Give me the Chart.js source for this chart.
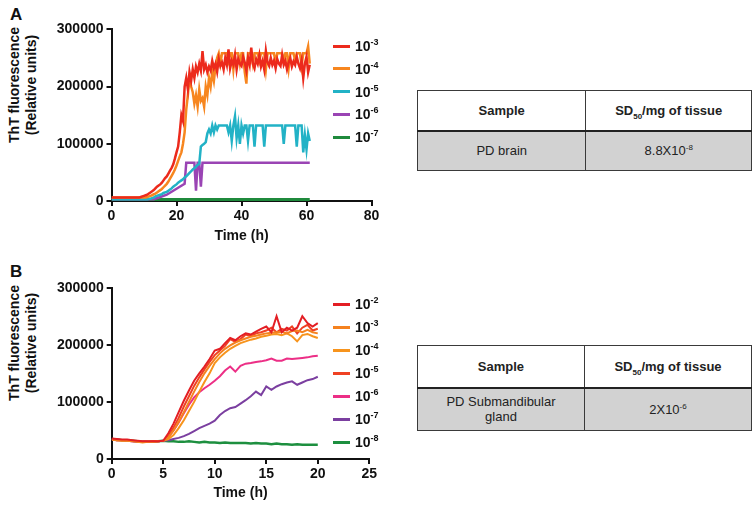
<!DOCTYPE html>
<html>
<head>
<meta charset="utf-8">
<script src="https://cdn.jsdelivr.net/npm/chart.js@4.4.0/dist/chart.umd.min.js"></script>
<style>
  html, body { margin: 0; padding: 0; background: #fff; }
  body { width: 752px; height: 505px; position: relative; overflow: hidden;
         font-family: 'Liberation Sans', Arial, sans-serif; color: #111; }
  .wrap { position: absolute; left: 0; width: 400px; height: 250px; }
  .panel { position: absolute; left: 10px; font-weight: bold; font-size: 17px; line-height: 17px; }
  .ytitle { position: absolute; width: 160px; height: 34px; font-weight: bold; font-size: 14px;
            line-height: 17px; text-align: center; transform: rotate(-90deg); white-space: nowrap; }
  .legend { position: absolute; left: 333px; top: 0; }
  .item { position: absolute; left: 0; height: 0; white-space: nowrap; }
  .item .sw { position: absolute; left: 0; top: -1.5px; width: 17px; height: 3px; }
  .item .lb { position: absolute; left: 22px; top: -8px; font-weight: bold; font-size: 14px; line-height: 16px; }
  .lb sup { font-size: 9px; vertical-align: 6px; line-height: 0; }
  table { position: absolute; left: 417px; border-collapse: collapse; font-size: 13px; color: #222; table-layout: fixed; }
  td { border: 1.5px solid #3a3a3a; text-align: center; padding: 0; line-height: 15px; }
  tr.head td { background: #fff; font-weight: bold; border-bottom: 2.5px solid #222; }
  tr.body td { background: #d2d2d2; }
  td sub, td sup { font-size: 8px; line-height: 0; }
</style>
</head>
<body>

<div class="panel" style="top:6px">A</div>
<div class="panel" style="top:263px">B</div>

<div class="ytitle" style="left:-57px; top:68px">ThT fluorescence<br>(Relative units)</div>
<div class="ytitle" style="left:-57px; top:326px">ThT fluorescence<br>(Relative units)</div>

<div class="wrap" style="top:0"><canvas id="chartA" width="400" height="250"></canvas></div>
<div class="wrap" style="top:255px"><canvas id="chartB" width="400" height="250"></canvas></div>

<div class="legend" id="legendA"></div>
<div class="legend" id="legendB"></div>

<table style="top:90px">
  <colgroup><col style="width:171px"><col style="width:168px"></colgroup>
  <tr class="head" style="height:40px"><td>Sample</td><td>SD<sub>50</sub>/mg of tissue</td></tr>
  <tr class="body" style="height:40px"><td style="font-weight:normal">PD brain</td><td>8.8X10<sup>-8</sup></td></tr>
</table>

<table style="top:345px">
  <colgroup><col style="width:169px"><col style="width:170px"></colgroup>
  <tr class="head" style="height:42px"><td>Sample</td><td>SD<sub>50</sub>/mg of tissue</td></tr>
  <tr class="body" style="height:43px"><td>PD Submandibular<br>gland</td><td>2X10<sup>-6</sup></td></tr>
</table>

<script>
// ---- panel A : brain seeding, time in hours ----
const timeA = [
  0,0.5,1,1.5,2,2.5,3,3.5,4,4.5,
  5,5.5,6,6.5,7,7.5,8,8.5,9,9.5,
  10,10.5,11,11.5,12,12.5,13,13.5,14,14.5,
  15,15.5,16,16.5,17,17.5,18,18.5,19,19.5,
  20,20.5,21,21.5,22,22.5,23,23.5,24,24.5,
  25,25.5,26,26.5,27,27.5,28,28.5,29,29.5,
  30,30.5,31,31.5,32,32.5,33,33.5,34,34.5,
  35,35.5,36,36.5,37,37.5,38,38.5,39,39.5,
  40,40.5,41,41.5,42,42.5,43,43.5,44,44.5,
  45,45.5,46,46.5,47,47.5,48,48.5,49,49.5,
  50,50.5,51,51.5,52,52.5,53,53.5,54,54.5,
  55,55.5,56,56.5,57,57.5,58,58.5,59,59.5,
  60,60.5,61
];
const redA = [
  6000,6000,6000,6000,6000,6000,6000,6000,6000,6000,
  6000,6000,6000,6000,6000,6000,6000,6000,7000,8000,
  9000,10000,11000,13000,15000,17000,19000,22000,25000,27000,
  29000,32000,36000,40000,43000,48000,53000,58000,64000,74000,
  85000,95000,120000,150000,140000,200000,215000,195000,225000,210000,
  230000,215000,235000,225000,240000,228000,262000,230000,238000,225000,
  235000,228000,245000,232000,240000,226000,248000,236000,242000,230000,
  250000,238000,265000,232000,245000,238000,255000,230000,248000,240000,
  236000,252000,242000,228000,250000,238000,268000,240000,232000,248000,
  240000,255000,235000,245000,230000,262000,242000,236000,250000,238000,
  245000,232000,248000,240000,236000,255000,238000,245000,230000,242000,
  250000,235000,244000,238000,252000,240000,232000,246000,215000,240000,
  252000,225000,238000
];
const orangeA = [
  6000,6000,6000,6000,6000,6000,6000,6000,6000,6000,
  6000,6000,6000,6000,6000,6000,6000,6000,6000,6000,
  6000,6000,7000,8000,9000,10000,12000,13000,15000,17000,
  19000,21000,24000,27000,30000,34000,39000,44000,49000,55000,
  62000,70000,78000,85000,100000,120000,160000,185000,215000,200000,
  190000,170000,185000,165000,195000,175000,180000,165000,200000,185000,
  215000,200000,225000,210000,235000,250000,258000,240000,258000,258000,
  258000,258000,245000,258000,258000,230000,258000,258000,258000,240000,
  258000,258000,225000,205000,258000,258000,258000,240000,258000,258000,
  258000,245000,258000,258000,258000,230000,258000,258000,258000,258000,
  258000,240000,258000,258000,258000,258000,245000,258000,258000,232000,
  258000,258000,258000,245000,258000,258000,258000,236000,258000,258000,
  258000,270000,240000
];
const cyanA = [
  3000,3000,3000,3000,3000,3000,3000,3000,3000,3000,
  3000,3000,3000,3000,3000,3000,3000,3000,3000,3000,
  3000,3000,3000,4000,4000,5000,6000,8000,9000,10000,
  11000,12000,14000,15000,16000,18000,20000,22000,25000,27000,
  29000,32000,34000,36000,38000,41000,43000,46000,49000,52000,
  55000,57000,60000,63000,65000,95000,98000,100000,103000,118000,
  125000,118000,132000,120000,132000,125000,132000,132000,132000,132000,
  132000,132000,120000,132000,105000,132000,148000,110000,132000,100000,
  132000,118000,132000,132000,105000,132000,132000,132000,95000,132000,
  132000,132000,132000,132000,95000,132000,132000,132000,132000,132000,
  132000,132000,132000,132000,132000,132000,100000,132000,132000,132000,
  132000,132000,132000,132000,95000,132000,132000,132000,85000,115000,
  90000,118000,105000
];
const timePurpleA = [0, 13, 15, 17, 19, 21, 22.5, 23, 25.5, 26, 26.5, 27, 27.5, 28, 61];
const purpleA = [3000, 3000, 7000, 11000, 18000, 25000, 30000, 67000, 67000, 18000, 67000, 67000, 25000, 67000, 67000];
const timeGreenA = [0, 61];
const greenA = [2500, 2500];

const labelsA = ['-3', '-4', '-5', '-6', '-7'];
const colorsA = ['#ec2a1c', '#f7861f', '#22b2c6', '#9a44b4', '#1f8a3c'];

// ---- panel B : submandibular gland seeding ----
const timeB = [
  0,0.5,1,1.5,2,2.5,3,3.5,4,4.5,
  5,5.5,6,6.5,7,7.5,8,8.5,9,9.5,
  10,10.5,11,11.5,12,12.5,13,13.5,14,14.5,
  15,15.5,16,16.5,17,17.5,18,18.5,19,19.5,
  20
];
const red2B = [
  36000,35000,34000,34000,33000,32000,31000,31000,31000,31000,
  32000,45000,62000,82000,102000,120000,137000,150000,162000,175000,
  190000,193000,203000,212000,208000,215000,220000,218000,223000,228000,
  232000,222000,250000,222000,230000,225000,230000,250000,238000,232000,
  238000
];
const orange3B = [
  35000,33000,33000,33000,32000,31000,30000,30000,30000,31000,
  32000,38000,50000,65000,82000,100000,118000,135000,150000,163000,
  175000,185000,193000,199000,204000,208000,211000,214000,216000,218000,
  220000,221000,222000,223000,220000,224000,225000,222000,226000,222000,
  220000
];
const orange4B = [
  34000,33000,32000,32000,31000,30000,29000,30000,30000,31000,
  32000,35000,42000,54000,68000,84000,100000,118000,135000,150000,
  168000,178000,186000,193000,198000,203000,206000,209000,211000,214000,
  216000,218000,219000,217000,220000,215000,206000,217000,219000,215000,
  212000
];
const red5B = [
  35000,34000,33000,33000,32000,31000,30000,30000,31000,31000,
  32000,40000,55000,72000,92000,110000,128000,143000,157000,170000,
  182000,190000,198000,210000,205000,210000,218000,215000,220000,222000,
  225000,230000,222000,228000,225000,232000,220000,230000,235000,225000,
  228000
];
const pink6B = [
  34000,33000,33000,32000,31000,30000,30000,30000,31000,31000,
  32000,38000,50000,64000,80000,95000,108000,117000,124000,130000,
  137000,145000,155000,162000,153000,163000,167000,168000,170000,171000,
  173000,176000,172000,172000,176000,175000,176000,177000,178000,180000,
  181000
];
const purple7B = [
  34000,33000,33000,32000,31000,30000,30000,30000,30000,31000,
  32000,33000,35000,37000,40000,44000,49000,54000,58000,62000,
  67000,77000,84000,89000,91000,97000,103000,110000,118000,112000,
  127000,121000,127000,131000,134000,136000,130000,134000,138000,140000,
  144000
];
const green8B = [
  35000,34000,33000,33000,32000,31000,30000,30000,30000,31000,
  32000,31000,31000,30000,30000,31000,30000,29000,30000,29000,
  29000,28000,29000,28000,28000,28000,28000,27000,28000,27000,
  27000,26000,27000,26000,26000,25000,26000,25000,25000,25000,
  25000
];

const labelsB = ['-2', '-3', '-4', '-5', '-6', '-7', '-8'];
const colorsB = ['#e31e24', '#f5821f', '#f7941d', '#ef4123', '#ec2f86', '#7b3fa0', '#1d8f3f'];

const yTicks = [0, 100000, 200000, 300000];

function pts(t, v) {
  return t.map((x, i) => ({ x: x, y: v[i] }));
}

const font = "'Liberation Sans', Arial, sans-serif";

function axes(xMax, xStep, xHeight, titlePad, yWidth) {
  const tickFont = { family: font, size: 14, weight: 'bold' };
  const grid = { display: true, drawOnChartArea: false, drawTicks: true, tickLength: 5, color: '#111', lineWidth: 2 };
  const border = { display: true, color: '#111', width: 2 };
  return {
    x: {
      type: 'linear', min: 0, max: xMax,
      ticks: { stepSize: xStep, color: '#111', font: tickFont, padding: 2, maxRotation: 0 },
      grid: grid, border: border,
      title: { display: true, text: 'Time (h)', color: '#111', font: tickFont, padding: { top: 0, bottom: titlePad } },
      afterFit: s => { s.height = xHeight; }
    },
    y: {
      min: 0, max: 300000,
      afterBuildTicks: s => { s.ticks = yTicks.map(v => ({ value: v })); },
      ticks: { color: '#111', font: tickFont, padding: 3, callback: v => String(v) },
      grid: grid, border: border,
      afterFit: s => { s.width = yWidth; }
    }
  };
}

function line(label, color, data, width) {
  return { label: label, data: data, borderColor: color, backgroundColor: color,
           borderWidth: width, pointRadius: 0, tension: 0, fill: false };
}

new Chart(document.getElementById('chartA').getContext('2d'), {
  type: 'line',
  data: {
    datasets: [
      line(labelsA[0], colorsA[0], pts(timeA, redA), 2.5),
      line(labelsA[1], colorsA[1], pts(timeA, orangeA), 2.5),
      line(labelsA[2], colorsA[2], pts(timeA, cyanA), 2.5),
      line(labelsA[3], colorsA[3], pts(timePurpleA, purpleA), 2.5),
      line(labelsA[4], colorsA[4], pts(timeGreenA, greenA), 3)
    ]
  },
  options: {
    responsive: false, animation: false,
    layout: { padding: { left: 0, right: 28.5, top: 29.3, bottom: 0 } },
    plugins: { legend: { display: false }, tooltip: { enabled: false } },
    scales: axes(80, 20, 49, 5.6, 111.5)
  }
});

new Chart(document.getElementById('chartB').getContext('2d'), {
  type: 'line',
  data: {
    datasets: [
      line(labelsB[0], colorsB[0], pts(timeB, red2B), 2),
      line(labelsB[1], colorsB[1], pts(timeB, orange3B), 2),
      line(labelsB[2], colorsB[2], pts(timeB, orange4B), 2),
      line(labelsB[3], colorsB[3], pts(timeB, red5B), 2),
      line(labelsB[4], colorsB[4], pts(timeB, pink6B), 2),
      line(labelsB[5], colorsB[5], pts(timeB, purple7B), 2),
      line(labelsB[6], colorsB[6], pts(timeB, green8B), 2.5)
    ]
  },
  options: {
    responsive: false, animation: false,
    layout: { padding: { left: 0, right: 30.7, top: 32.7, bottom: 0 } },
    plugins: { legend: { display: false }, tooltip: { enabled: false } },
    scales: axes(25, 5, 46, 3.6, 111.7)
  }
});

// legends drawn as html from the same labels and colours
function legend(id, labels, colors, top, gap) {
  const el = document.getElementById(id);
  labels.forEach((lab, i) => {
    const it = document.createElement('div');
    it.className = 'item';
    it.style.top = (top + i * gap) + 'px';
    it.innerHTML = '<div class="sw" style="background:' + colors[i] + '"></div>' +
                   '<div class="lb">10<sup>' + lab + '</sup></div>';
    el.appendChild(it);
  });
}
legend('legendA', labelsA, colorsA, 46, 22.75);
legend('legendB', labelsB, colorsB, 304, 23);
</script>
</body>
</html>
